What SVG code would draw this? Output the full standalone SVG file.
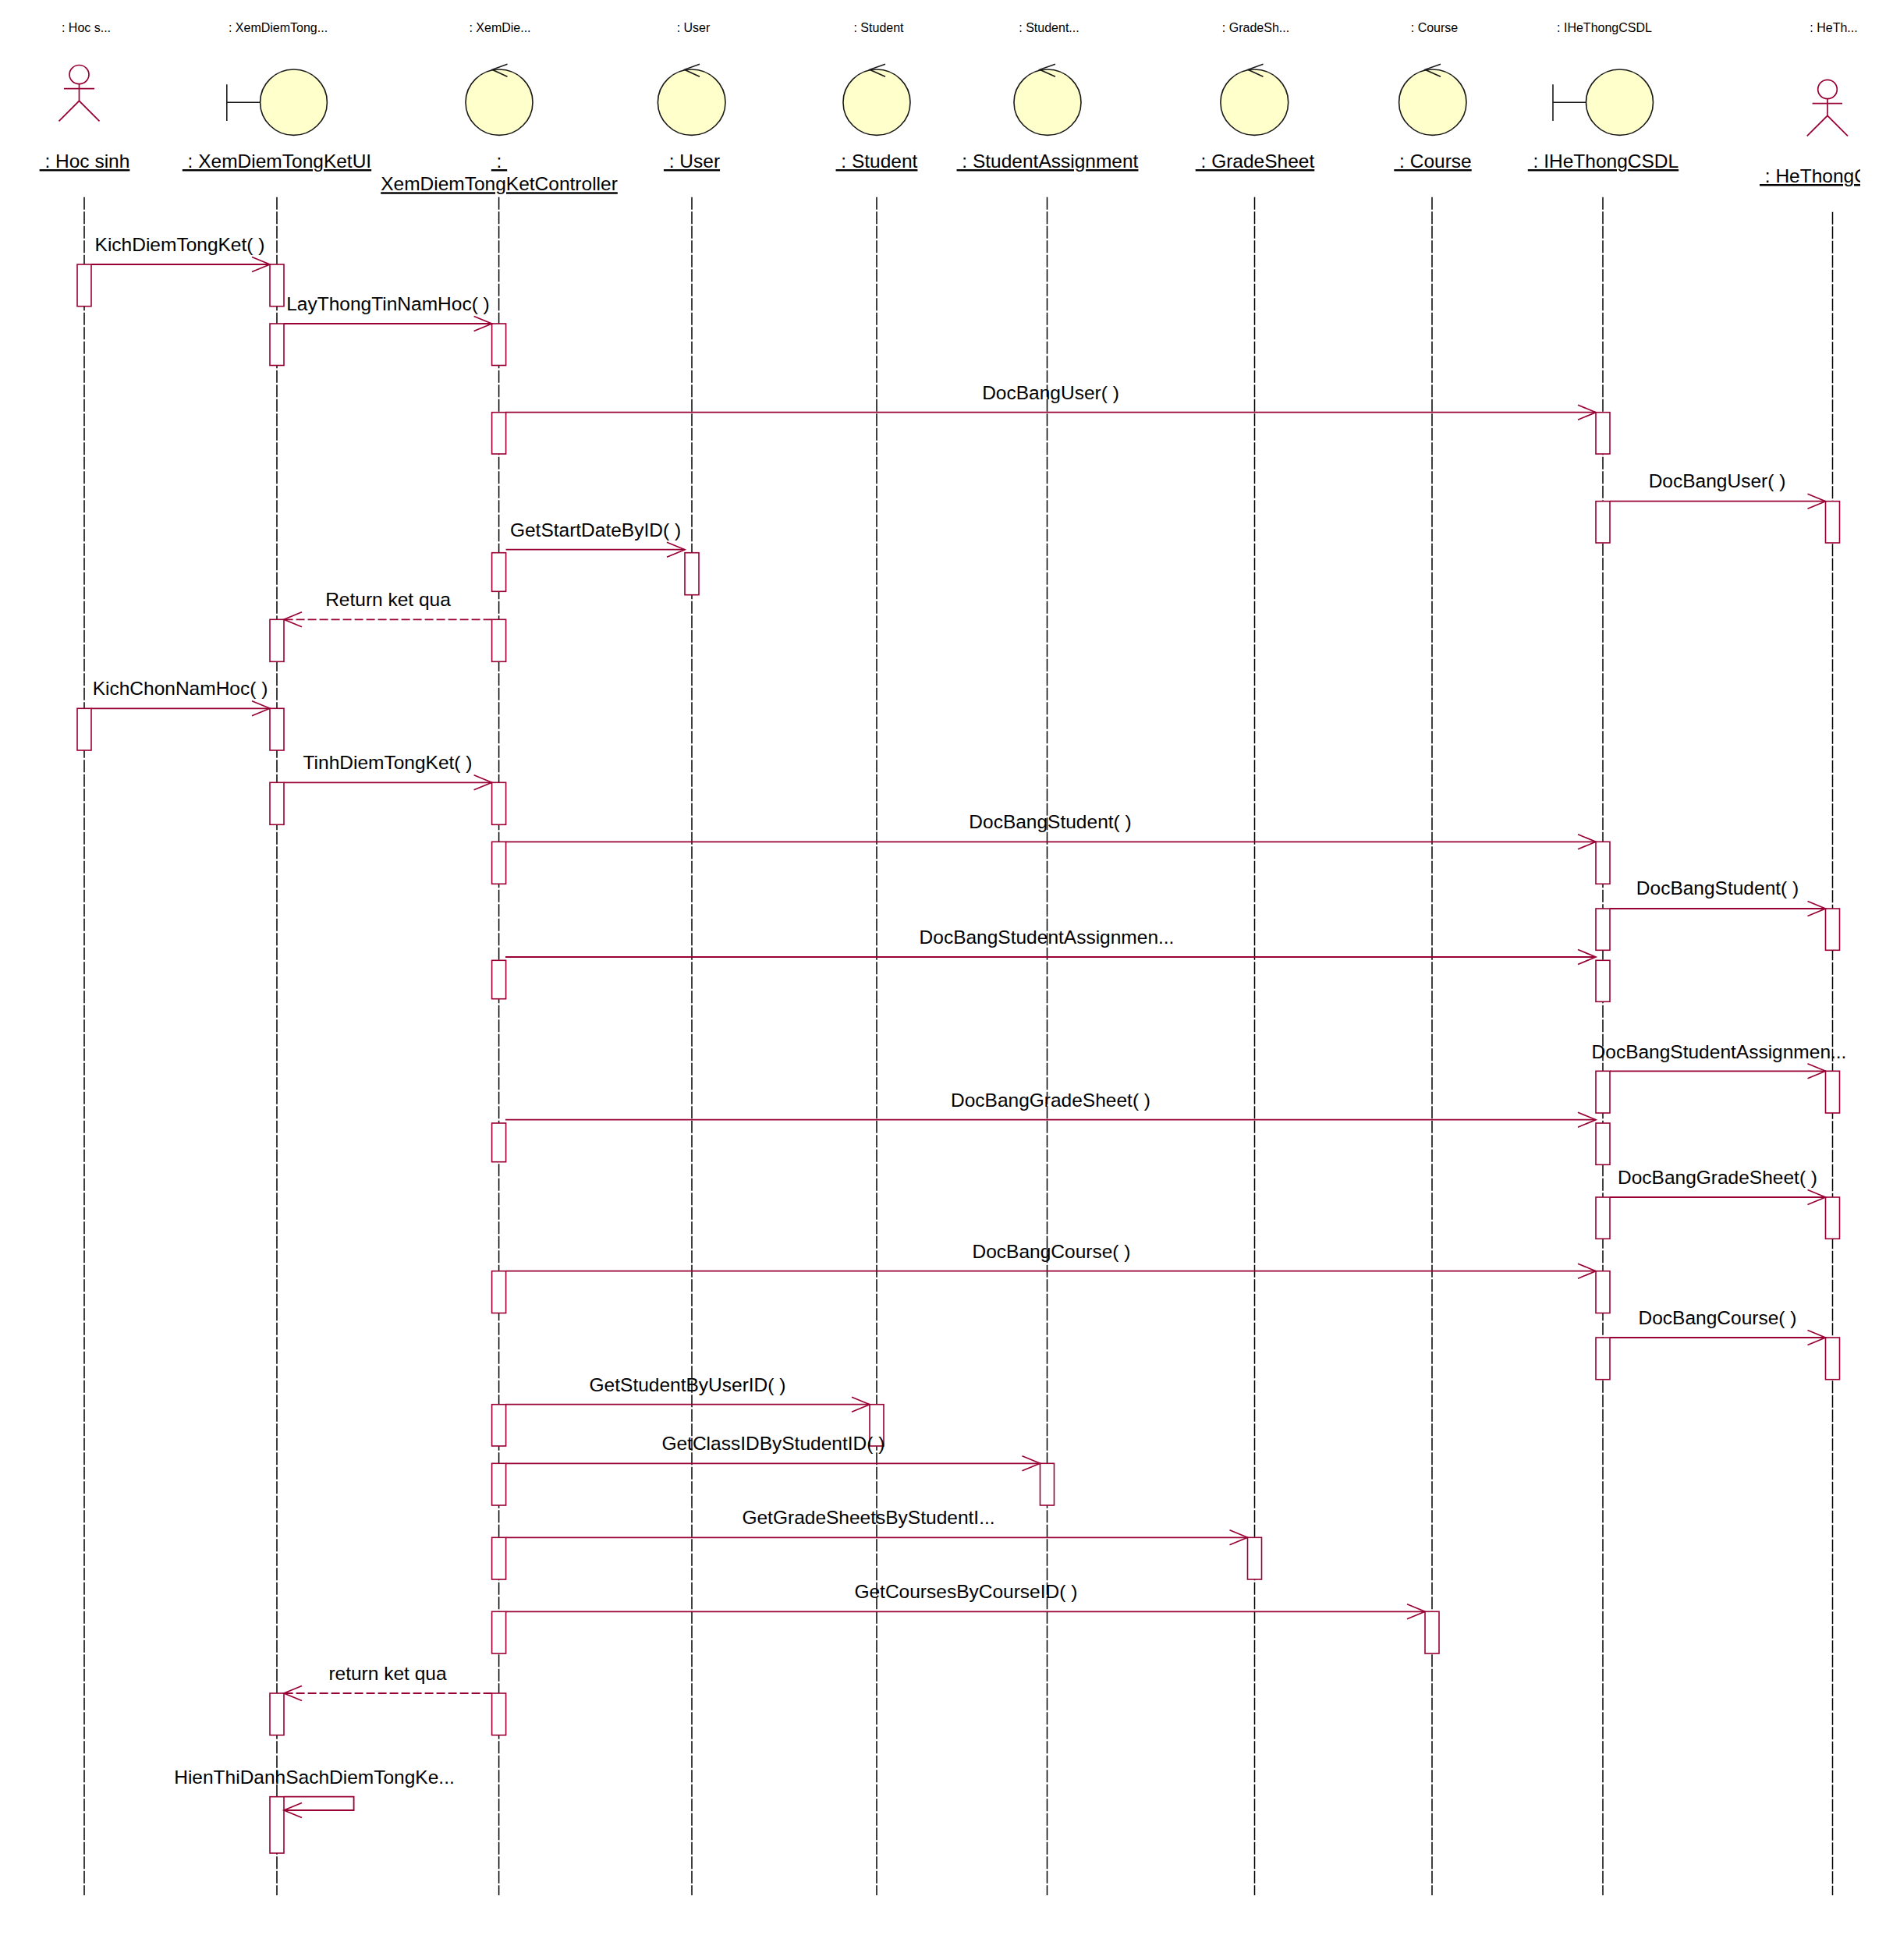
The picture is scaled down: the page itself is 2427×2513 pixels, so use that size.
<svg xmlns="http://www.w3.org/2000/svg" width="2427" height="2513" viewBox="0 0 2427 2513">
<style>
text{font-family:"Liberation Sans",Arial,sans-serif;fill:#000;white-space:pre}
.sm{font-size:16px;text-anchor:middle}
.nm{font-size:24.5px;text-anchor:middle;text-decoration:underline;text-decoration-thickness:2.5px;text-underline-offset:2px}
.msg{font-size:24.5px;text-anchor:middle}
.life{stroke:#000;stroke-width:1.5;stroke-dasharray:16 2.5;fill:none}
.act{fill:#fff;stroke:#990033;stroke-width:1.6}
.obj{fill:#ffffcc;stroke:#1a1a1a;stroke-width:1.6}
.ink{fill:none;stroke:#1a1a1a;stroke-width:1.6}
.actor{fill:none;stroke:#990033;stroke-width:1.7}
.call{fill:none;stroke:#990033;stroke-width:1.8;marker-end:url(#open)}
.ret{stroke-dasharray:11 4}
</style>
<defs>
<marker id="open" markerUnits="userSpaceOnUse" markerWidth="30" markerHeight="26" refX="25" refY="12" orient="auto" overflow="visible">
<path d="M2,2.5 L25,12 L2,21.5" fill="none" stroke="#990033" stroke-width="1.7"/>
</marker>
<clipPath id="clipHe"><rect x="2240" y="200" width="145" height="50"/></clipPath>
</defs>
<rect width="2427" height="2513" fill="#fff"/>

<g id="node-hocsinh">
<text class="sm" x="110.5" y="41">: Hoc s...</text>
<g class="actor"><ellipse cx="101.5" cy="95.6" rx="12.5" ry="12.1"/><path d="M82,113.7H121M101.5,107.7V129.3M75.5,155.3L101.5,129.3L127.5,155.3"/></g>
<text class="nm" x="108.5" y="215" xml:space="preserve"> : Hoc sinh</text>
<line class="life" x1="108" y1="252.7" x2="108" y2="2430"/>
<rect class="act" x="99" y="339" width="18" height="53.7"/>
<rect class="act" x="99" y="908.3" width="18" height="53.7"/>
</g>

<g id="node-xemdiemtongketui">
<text class="sm" x="356.5" y="41">: XemDiemTong...</text>
<path class="ink" d="M290.8,108.3V155M290.8,131.3H333.7"/>
<ellipse class="obj" cx="376.5" cy="131.2" rx="42.9" ry="42.2"/>
<text class="nm" x="355" y="215" xml:space="preserve"> : XemDiemTongKetUI</text>
<line class="life" x1="355" y1="252.7" x2="355" y2="2430"/>
<rect class="act" x="346" y="339" width="18" height="53.7"/>
<rect class="act" x="346" y="415" width="18" height="53.5"/>
<rect class="act" x="346" y="794.3" width="18" height="54"/>
<rect class="act" x="346" y="908.3" width="18" height="53.7"/>
<rect class="act" x="346" y="1003.3" width="18" height="54"/>
<rect class="act" x="346" y="2171" width="18" height="53.7"/>
<rect class="act" x="346" y="2303.7" width="18" height="72.3"/>
</g>

<g id="node-controller">
<text class="sm" x="641" y="41">: XemDie...</text>
<ellipse class="obj" cx="640" cy="131.2" rx="43" ry="42.2"/>
<path class="ink" d="M650.5,82.3L631,89.3L650.5,98.3"/>
<text class="nm" x="640" y="215" xml:space="preserve"> : </text>
<text class="nm" x="640" y="244.3">XemDiemTongKetController</text>
<line class="life" x1="639.6" y1="252.7" x2="639.6" y2="2430"/>
<rect class="act" x="630.6" y="415" width="18" height="53.5"/>
<rect class="act" x="630.6" y="528.7" width="18" height="53.3"/>
<rect class="act" x="630.6" y="708.7" width="18" height="49.6"/>
<rect class="act" x="630.6" y="794.3" width="18" height="54"/>
<rect class="act" x="630.6" y="1003.3" width="18" height="54"/>
<rect class="act" x="630.6" y="1079.3" width="18" height="54"/>
<rect class="act" x="630.6" y="1231.3" width="18" height="49.4"/>
<rect class="act" x="630.6" y="1440" width="18" height="49.7"/>
<rect class="act" x="630.6" y="1629.7" width="18" height="53.8"/>
<rect class="act" x="630.6" y="1800.7" width="18" height="53.3"/>
<rect class="act" x="630.6" y="1876.3" width="18" height="53.7"/>
<rect class="act" x="630.6" y="1971.3" width="18" height="53.7"/>
<rect class="act" x="630.6" y="2066.3" width="18" height="53.7"/>
<rect class="act" x="630.6" y="2171" width="18" height="53.7"/>
</g>

<g id="node-user">
<text class="sm" x="889" y="41">: User</text>
<ellipse class="obj" cx="886.7" cy="131.2" rx="43.3" ry="42.2"/>
<path class="ink" d="M897,82.3L877.5,89.3L897,98.3"/>
<text class="nm" x="887" y="215" xml:space="preserve"> : User</text>
<line class="life" x1="887" y1="252.7" x2="887" y2="2430"/>
<rect class="act" x="878" y="708.7" width="18" height="54"/>
</g>

<g id="node-student">
<text class="sm" x="1126.5" y="41">: Student</text>
<ellipse class="obj" cx="1124" cy="131.2" rx="43" ry="42.2"/>
<path class="ink" d="M1135,82.3L1115,89.3L1135,98.3"/>
<text class="nm" x="1124" y="215" xml:space="preserve"> : Student</text>
<line class="life" x1="1124" y1="252.7" x2="1124" y2="2430"/>
<rect class="act" x="1115" y="1800.7" width="18" height="53.3"/>
</g>

<g id="node-studentassignment">
<text class="sm" x="1345" y="41">: Student...</text>
<ellipse class="obj" cx="1343" cy="131.2" rx="43" ry="42.2"/>
<path class="ink" d="M1353,82.3L1333,89.3L1353,98.3"/>
<text class="nm" x="1343" y="215" xml:space="preserve"> : StudentAssignment</text>
<line class="life" x1="1342.5" y1="252.7" x2="1342.5" y2="2430"/>
<rect class="act" x="1333.5" y="1876.3" width="18" height="53.7"/>
</g>

<g id="node-gradesheet">
<text class="sm" x="1610" y="41">: GradeSh...</text>
<ellipse class="obj" cx="1608.3" cy="131.2" rx="43.4" ry="42.2"/>
<path class="ink" d="M1619.5,82.3L1600,89.3L1619.5,98.3"/>
<text class="nm" x="1609" y="215" xml:space="preserve"> : GradeSheet</text>
<line class="life" x1="1608.5" y1="252.7" x2="1608.5" y2="2430"/>
<rect class="act" x="1599.5" y="1971.3" width="18" height="53.7"/>
</g>

<g id="node-course">
<text class="sm" x="1839" y="41">: Course</text>
<ellipse class="obj" cx="1836.8" cy="131.2" rx="43.2" ry="42.2"/>
<path class="ink" d="M1847,82.3L1827,89.3L1847,98.3"/>
<text class="nm" x="1837" y="215" xml:space="preserve"> : Course</text>
<line class="life" x1="1836" y1="252.7" x2="1836" y2="2430"/>
<rect class="act" x="1827" y="2066.3" width="18" height="53.7"/>
</g>

<g id="node-ihethongcsdl">
<text class="sm" x="2057" y="41">: IHeThongCSDL</text>
<path class="ink" d="M1991,108.3V155M1991,131.3H2033.5"/>
<ellipse class="obj" cx="2076.5" cy="131.2" rx="43" ry="42.2"/>
<text class="nm" x="2055.5" y="215" xml:space="preserve"> : IHeThongCSDL</text>
<line class="life" x1="2055" y1="252.7" x2="2055" y2="2430"/>
<rect class="act" x="2046" y="528.7" width="18" height="53.3"/>
<rect class="act" x="2046" y="642.7" width="18" height="53.3"/>
<rect class="act" x="2046" y="1079.3" width="18" height="54"/>
<rect class="act" x="2046" y="1165" width="18" height="53.3"/>
<rect class="act" x="2046" y="1231.3" width="18" height="53"/>
<rect class="act" x="2046" y="1373.3" width="18" height="53.7"/>
<rect class="act" x="2046" y="1440" width="18" height="53.3"/>
<rect class="act" x="2046" y="1535" width="18" height="53.3"/>
<rect class="act" x="2046" y="1629.7" width="18" height="53.8"/>
<rect class="act" x="2046" y="1715" width="18" height="53.7"/>
</g>

<g id="node-hethong">
<text class="sm" x="2351" y="41">: HeTh...</text>
<g class="actor"><ellipse cx="2343" cy="114.5" rx="12.3" ry="12.2"/><path d="M2323.6,132.7H2362M2343,126.7V148.3M2316.8,174.3L2343,148.3L2369,174.3"/></g>
<g clip-path="url(#clipHe)"><text class="nm" style="text-anchor:start" x="2256" y="234" xml:space="preserve"> : HeThongC</text></g>
<line class="life" x1="2349.5" y1="271.7" x2="2349.5" y2="2430"/>
<rect class="act" x="2340.5" y="642.7" width="18" height="53.3"/>
<rect class="act" x="2340.5" y="1165" width="18" height="53.3"/>
<rect class="act" x="2340.5" y="1373.3" width="18" height="53.7"/>
<rect class="act" x="2340.5" y="1535" width="18" height="53.3"/>
<rect class="act" x="2340.5" y="1715" width="18" height="53.7"/>
</g>

<g id="connectors">
<line class="call" x1="117" y1="339" x2="346" y2="339"/>
<text class="msg" x="230.5" y="322">KichDiemTongKet( )</text>
<line class="call" x1="364" y1="415" x2="630.6" y2="415"/>
<text class="msg" x="497.5" y="398">LayThongTinNamHoc( )</text>
<line class="call" x1="648.6" y1="528.7" x2="2046" y2="528.7"/>
<text class="msg" x="1347" y="511.7">DocBangUser( )</text>
<line class="call" x1="2064" y1="642.7" x2="2340.5" y2="642.7"/>
<text class="msg" x="2201.5" y="625">DocBangUser( )</text>
<line class="call" x1="648.6" y1="704.7" x2="878" y2="704.7"/>
<text class="msg" x="763.5" y="688">GetStartDateByID( )</text>
<line class="call ret" x1="630.6" y1="794.3" x2="364" y2="794.3"/>
<text class="msg" x="497.5" y="776.7">Return ket qua</text>
<line class="call" x1="117" y1="908.3" x2="346" y2="908.3"/>
<text class="msg" x="231" y="891.3">KichChonNamHoc( )</text>
<line class="call" x1="364" y1="1003.3" x2="630.6" y2="1003.3"/>
<text class="msg" x="497" y="986.3">TinhDiemTongKet( )</text>
<line class="call" x1="648.6" y1="1079.3" x2="2046" y2="1079.3"/>
<text class="msg" x="1346.5" y="1062">DocBangStudent( )</text>
<line class="call" x1="2064" y1="1165" x2="2340.5" y2="1165"/>
<text class="msg" x="2202" y="1147">DocBangStudent( )</text>
<line class="call" x1="648" y1="1227" x2="2046" y2="1227"/>
<text class="msg" x="1342" y="1209.5">DocBangStudentAssignmen...</text>
<line class="call" x1="2064" y1="1373.3" x2="2340.5" y2="1373.3"/>
<text class="msg" x="2204" y="1357">DocBangStudentAssignmen...</text>
<line class="call" x1="648" y1="1435.7" x2="2046" y2="1435.7"/>
<text class="msg" x="1347" y="1418.7">DocBangGradeSheet( )</text>
<line class="call" x1="2064" y1="1535" x2="2340.5" y2="1535"/>
<text class="msg" x="2202" y="1518">DocBangGradeSheet( )</text>
<line class="call" x1="648.6" y1="1629.7" x2="2046" y2="1629.7"/>
<text class="msg" x="1348" y="1612.7">DocBangCourse( )</text>
<line class="call" x1="2064" y1="1715" x2="2340.5" y2="1715"/>
<text class="msg" x="2202" y="1698">DocBangCourse( )</text>
<line class="call" x1="648.6" y1="1800.7" x2="1115" y2="1800.7"/>
<text class="msg" x="881.5" y="1783.7">GetStudentByUserID( )</text>
<line class="call" x1="648.6" y1="1876.3" x2="1333.5" y2="1876.3"/>
<text class="msg" x="991.4" y="1859.3">GetClassIDByStudentID( )</text>
<line class="call" x1="648.6" y1="1971.3" x2="1599.5" y2="1971.3"/>
<text class="msg" x="1113.5" y="1954.3">GetGradeSheetsByStudentI...</text>
<line class="call" x1="648.6" y1="2066.3" x2="1827" y2="2066.3"/>
<text class="msg" x="1238.4" y="2049.3">GetCoursesByCourseID( )</text>
<line class="call ret" x1="630.6" y1="2171" x2="364" y2="2171"/>
<text class="msg" x="497" y="2153.5">return ket qua</text>
<path class="call" d="M364,2303.7H453.6V2321H364"/>
<text class="msg" x="403" y="2286.5">HienThiDanhSachDiemTongKe...</text>
</g>
</svg>
